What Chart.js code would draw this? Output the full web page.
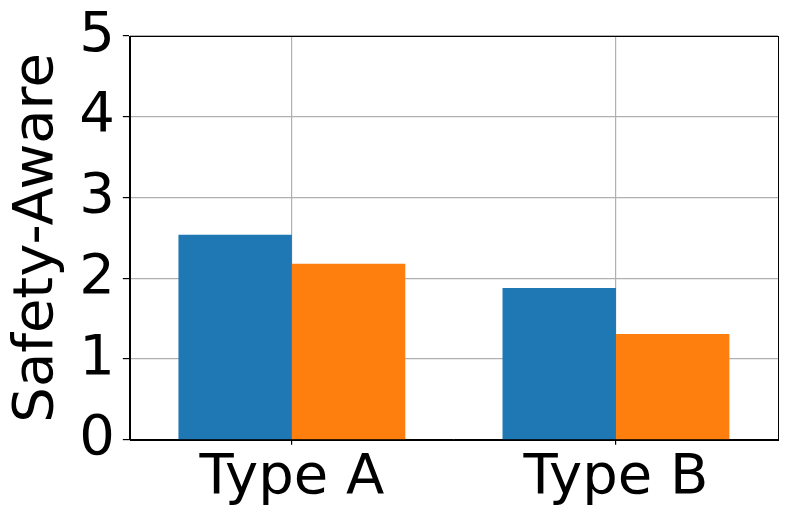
<!DOCTYPE html>
<html>
<head>
<meta charset="utf-8">
<script src="https://cdn.jsdelivr.net/npm/chart.js@4"></script>
<style>
  html, body { margin: 0; padding: 0; background: #fff; }
  #wrap { width: 792px; height: 524px; }
</style>
</head>
<body>
<div id="wrap"><canvas id="graph" width="792" height="524"></canvas></div>
<script>
//categories and values
var categories = ['Type A', 'Type B'];
var series_blue = [2.54, 1.88];
var series_orange = [2.18, 1.31];
var y_ticks = [0, 1, 2, 3, 4, 5];

//draw the box round the plot area
var frame_plugin = {
    id: 'frame',
    afterDraw: function (chart) {
        var a = chart.chartArea;
        var c = chart.ctx;
        c.save();
        c.strokeStyle = '#000';
        c.lineWidth = 1;
        c.strokeRect(Math.round(a.left) + 0.5, Math.round(a.top) + 0.5,
            Math.round(a.right - a.left), Math.round(a.bottom - a.top));
        c.restore();
    }
};

Chart.defaults.font.family = 'DejaVu Sans';
Chart.defaults.color = '#000';

const ctx = document.getElementById('graph');
new Chart(ctx, {
    type: 'bar',
    data: {
        labels: categories,
        datasets: [{
            data: series_blue,
            backgroundColor: '#1f77b4',
            categoryPercentage: 0.7,
            barPercentage: 1.0
        }, {
            data: series_orange,
            backgroundColor: '#ff7f0e',
            categoryPercentage: 0.7,
            barPercentage: 1.0
        }]
    },
    options: {
        responsive: false,
        animation: false,
        layout: { padding: { top: 2, right: 14, left: 4, bottom: 12 } },
        plugins: {
            legend: { display: false },
            tooltip: { enabled: false }
        },
        scales: {
            x: {
                z: 1,
                grid: {
                    offset: false,
                    color: '#b0b0b0',
                    lineWidth: 1.2,
                    tickColor: '#000',
                    tickLength: 5
                },
                border: { color: '#000' },
                ticks: {
                    font: { size: 56 },
                    padding: 0
                }
            },
            y: {
                z: 1,
                min: y_ticks[0],
                max: y_ticks[y_ticks.length - 1],
                afterBuildTicks: function (axis) {
                    axis.ticks = y_ticks.map(function (v) { return { value: v }; });
                },
                grid: {
                    color: '#b0b0b0',
                    lineWidth: 1.2,
                    tickColor: '#000',
                    tickLength: 7
                },
                border: { color: '#000' },
                ticks: {
                    font: { size: 56, lineHeight: 1.0 },
                    padding: 8
                },
                title: {
                    display: true,
                    text: 'Safety-Aware',
                    font: { size: 56 },
                    padding: 0
                }
            }
        }
    },
    plugins: [frame_plugin]
});
</script>
</body>
</html>
